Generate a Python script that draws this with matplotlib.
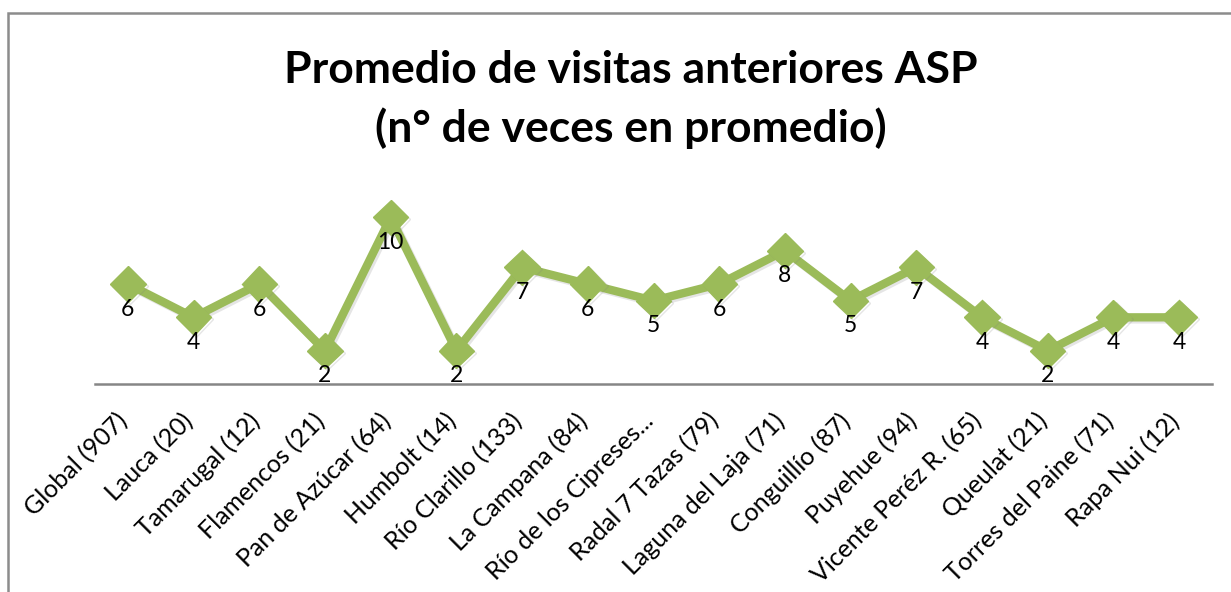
import matplotlib.pyplot as plt
import matplotlib.patheffects as pe
from matplotlib.patches import Rectangle
from matplotlib.transforms import ScaledTranslation

# data
parks = ['Global (907)', 'Lauca (20)', 'Tamarugal (12)', 'Flamencos (21)',
         'Pan de Azúcar (64)', 'Humbolt (14)', 'Río Clarillo (133)',
         'La Campana (84)', 'Río de los Cipreses...', 'Radal 7 Tazas (79)',
         'Laguna del Laja (71)', 'Conguillío (87)', 'Puyehue (94)',
         'Vicente Peréz R. (65)', 'Queulat (21)', 'Torres del Paine (71)',
         'Rapa Nui (12)']
visits = [6, 4, 6, 2, 10, 2, 7, 6, 5, 6, 8, 5, 7, 4, 2, 4, 4]

green = '#9bbb59'
plt.rcParams['font.family'] = ['Lato', 'DejaVu Sans']

fig = plt.figure(figsize=(12.31, 5.92), dpi=100)
ax = fig.add_axes([95 / 1231, 1 - 384 / 592, 1117 / 1231, 200 / 592])

x = range(len(parks))
shadow = [pe.SimpleLineShadow(offset=(1.5, -1.5), shadow_color='gray', alpha=0.2), pe.Normal()]
ax.plot(x, visits, color=green, lw=6, marker='D', markersize=18,
        markeredgecolor=green, solid_joinstyle='miter', path_effects=shadow, zorder=3)

for i, v in enumerate(visits):
    ax.annotate(str(v), (i, v), xytext=(0, -18), textcoords='offset points',
                ha='center', va='center', fontsize=16.5, color='black', zorder=4)

ax.set_xlim(-0.5, len(parks) - 0.5)
ax.set_ylim(0, 12)
ax.set_yticks([])
ax.set_xticks(list(x))
ax.set_xticklabels(parks, rotation=45, ha='right', rotation_mode='anchor', fontsize=18)
ax.tick_params(axis='x', length=0, pad=8)
shift = ScaledTranslation(-12 / 100, -14 / 100, fig.dpi_scale_trans)
for lab in ax.get_xticklabels():
    lab.set_transform(lab.get_transform() + shift)
for s in ['top', 'right', 'left']:
    ax.spines[s].set_visible(False)
ax.spines['bottom'].set_color('#868686')
ax.spines['bottom'].set_linewidth(1.8)
ax.patch.set_alpha(0)

fig.text(631 / 1231, 1 - 70 / 592, 'Promedio de visitas anteriores ASP', ha='center', va='center',
         fontsize=32, fontweight='bold')
fig.text(631 / 1231, 1 - 128 / 592, '(n° de veces en promedio)', ha='center', va='center',
         fontsize=32, fontweight='bold')

# chart area border
fig.patches.append(Rectangle((8 / 1231, -0.1), 1.2, 1 - 13 / 592 + 0.1, transform=fig.transFigure,
                             fill=False, edgecolor='#8c8c8c', lw=1.8))

fig.savefig('out.png', dpi=100)
